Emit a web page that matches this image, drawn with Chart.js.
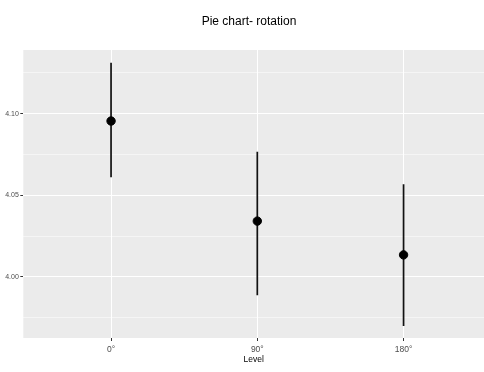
<!DOCTYPE html>
<html>
<head>
<meta charset="utf-8">
<script src="https://cdn.jsdelivr.net/npm/chart.js@4/dist/chart.umd.min.js"></script>
<style>
  html, body { margin: 0; padding: 0; background: #ffffff; }
  #wrap { width: 484px; height: 372px; }
</style>
</head>
<body>
<div id="wrap"><canvas id="plot" width="484" height="372"></canvas></div>
<script>
// values
const levels = ['0°', '90°', '180°'];
const means = [4.0955, 4.0342, 4.0135];
const upper = [4.1312, 4.0767, 4.0567];
const lower = [4.0611, 3.9888, 3.9700];

const yTicks = [3.975, 4.00, 4.025, 4.05, 4.075, 4.10, 4.125];
const yMajor = [4.00, 4.05, 4.10];

function is_major(v)
{
    return yMajor.some(function(m) { return Math.abs(m - v) < 1e-6; });
}

// grey panel behind the grid, ggplot style
const panel_bg = {
    id: 'panel_bg',
    afterLayout: function(chart) {
	// centre the title a little right of the canvas middle
	if (chart.titleBlock)
	    chart.titleBlock.left = 14;
    },
    beforeDraw: function(chart) {
	const a = chart.chartArea;
	const ctx = chart.ctx;
	ctx.save();
	ctx.fillStyle = '#EBEBEB';
	ctx.fillRect(a.left, a.top, a.right - a.left, a.bottom - a.top);
	ctx.restore();
    }
};

var datasets = [{
    label: 'mean',
    data: means.map(function(v, i) { return {x: i + 1, y: v}; }),
    backgroundColor: '#000000',
    borderColor: '#000000',
    pointRadius: 4.2,
    pointHoverRadius: 4.2,
    showLine: false,
    order: 0
}];

levels.forEach(function(l, i) {
    datasets.push({
	label: l,
	data: [{x: i + 1, y: lower[i]}, {x: i + 1, y: upper[i]}],
	borderColor: '#111111',
	borderWidth: 1.7,
	pointRadius: 0,
	showLine: true,
	order: 1
    });
});

new Chart(document.getElementById('plot'), {
    type: 'scatter',
    data: { datasets: datasets },
    plugins: [panel_bg],
    options: {
	responsive: false,
	animation: false,
	layout: { padding: 0, autoPadding: false },
	plugins: {
	    legend: { display: false },
	    tooltip: { enabled: false },
	    title: {
		display: true,
		text: 'Pie chart- rotation',
		color: '#000000',
		font: { family: 'Liberation Sans', size: 12, weight: 'normal' },
		padding: { top: 14, bottom: 21.6 }
	    }
	},
	scales: {
	    x: {
		type: 'linear',
		min: 0.4,
		max: 3.55,
		afterBuildTicks: function(scale) {
		    scale.ticks = levels.map(function(l, i) { return {value: i + 1}; });
		},
		afterFit: function(scale) { scale.height = 34; },
		ticks: {
		    color: '#4D4D4D',
		    padding: 3.5,
		    maxRotation: 0,
		    font: { family: 'Liberation Sans', size: 8.5 },
		    callback: function(v) { return levels[Math.round(v) - 1]; }
		},
		grid: {
		    color: '#FFFFFF',
		    lineWidth: 1,
		    tickColor: '#333333',
		    tickLength: 3,
		    tickWidth: 1
		},
		border: { display: false },
		title: {
		    display: true,
		    text: 'Level',
		    color: '#000000',
		    font: { family: 'Liberation Sans', size: 8.5 },
		    padding: { top: 0, bottom: 7 }
		}
	    },
	    y: {
		type: 'linear',
		min: 3.9626,
		max: 4.1390,
		afterBuildTicks: function(scale) {
		    scale.ticks = yTicks.map(function(v) { return {value: v}; });
		},
		afterFit: function(scale) { scale.width = 23.3; },
		ticks: {
		    color: '#4D4D4D',
		    padding: 1.5,
		    font: { family: 'Liberation Sans', size: 7 },
		    callback: function(v) { return is_major(v) ? v.toFixed(2) : ''; }
		},
		grid: {
		    color: '#FFFFFF',
		    lineWidth: function(c) { return is_major(c.tick.value) ? 1 : 0.5; },
		    tickColor: function(c) { return is_major(c.tick.value) ? '#333333' : 'rgba(0,0,0,0)'; },
		    tickLength: 3,
		    tickWidth: 1
		},
		border: { display: false }
	    }
	}
    }
});
</script>
</body>
</html>
